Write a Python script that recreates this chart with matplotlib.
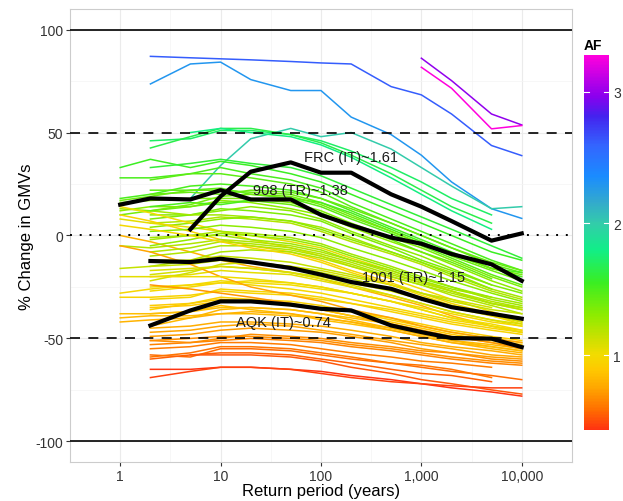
import numpy as np
import matplotlib
matplotlib.use('Agg')
import matplotlib.pyplot as plt
from matplotlib.colors import LinearSegmentedColormap, Normalize
from matplotlib.cm import ScalarMappable

plt.rcParams['font.family'] = ['Liberation Sans', 'DejaVu Sans']

return_periods = [1, 2, 5, 10, 20, 50, 100, 200, 500, 1000, 2000, 5000, 10000]
N = None

# amplification factor of each site record
af_values = [
    2.62, 2.30, 2.98, 3.28, 2.00,
    1.72, 1.65, 1.78, 1.55, 1.50, 1.45, 1.50, 1.40, 1.45, 1.35, 1.30, 1.40,
    1.30, 1.35, 1.25, 1.20, 1.30, 1.50, 1.60, 1.42, 1.38,
    1.00, 0.95, 1.05, 0.80, 1.20, 1.25, 1.20, 1.22, 1.15, 1.10, 1.05, 1.12,
    1.00, 0.98, 1.15, 0.95, 0.95, 1.28, 1.30, 1.20, 1.25, 0.98,
    0.90, 0.85, 0.92, 0.82, 0.85, 0.78, 0.72, 0.68, 0.65, 0.62, 0.58, 0.55,
    0.52, 0.44, 0.47, 0.80, 0.82, 0.97, 0.75, 0.70, 1.02, 1.08, 0.88, 0.75,
    0.60, 0.68,
]

# % change in GMVs per return period (None = not computed)
gmv_change = [
    [N, 87, 86.3, 85.8, 85.3, 84.5, 83.8, 83.3, 72.3, 68.3, 59, 43.7, 38.8],
    [N, 73.6, 83.3, 84.2, 75.7, 70.4, 70.4, 57.5, 49, 39, 26, 13, 8.3],
    [N, N, N, N, N, N, N, N, N, 86.1, 75.2, 59, 53.7],
    [N, N, N, N, N, N, N, N, N, 81.7, 71.5, 51.8, 53.4],
    [N, N, 18, 34, 47, 52, 48, 50, 42, 33, 24, 13, 14],
    [N, 46, 47, 51, 51, 49, 46, 41, 33, 26, 18, 10, N],
    [N, 42.5, 48, 52, 52, 49, 45, 39, 30, 22, 14, 6, N],
    [N, N, 50, 52, 50, 48, 44, 38, 28, 20, 12, 3, N],
    [33, 37, 33, 36, 34, 30, 26, 20, 12, 6, 0, -8, -12],
    [28, 28, 30, 33, 30, 27, 23, 16, 8, 2, -4, -12, -17],
    [N, 27, 30, 30, 28, 25, 21, 14, 6, 0, -6, -14, -18],
    [18, 20, 24, 25, 24, 22, 18, 12, 4, -2, -8, -16, -20],
    [17, 19, 22, 22, 21, 20, 16, 10, 2, -4, -10, -17, -22],
    [N, 22, 22, 23, 20, 18, 14, 8, 1, -5, -11, -19, -24],
    [16, 17, 18, 18, 18, 16, 12, 6, -1, -6, -12, -20, -25],
    [12, 14, 14, 17, 16, 13, 10, 4, -3, -8, -14, -22, -27],
    [N, 12, 14, 16, 17, 15, 11, 5, -2, -8, -13, -21, N],
    [N, 10, 10, 12, 14, 12, 8, 2, -5, -10, -16, -24, N],
    [N, 8, 10, 13, 12, 10, 7, 1, -6, -12, -17, -24, -28],
    [13, 12, 10, 10, 9, 7, 4, -1, -8, -13, -18, -26, -30],
    [N, 6, 7, 9, 8, 6, 2, -3, -9, -14, -20, -27, -31],
    [N, 4, 6, 8, 9, 7, 3, -2, -8, -13, -19, -26, N],
    [N, 14, 16, 15, 17, 18, 16, 11, 3, -3, -9, -16, -18],
    [N, 33, 35, 37, 35, 33, 29, 23, 15, 9, 3, -5, -11],
    [N, 20, 21, 20, 22, 21, 18, 13, 6, 0, -6, -13, -17],
    [10, 12, 15, 19, 20, 19, 15, 9, 2, -4, -9, -16, -19],
    [14, 11, 6, 2, -2, -6, -10, -15, -21, -26, -31, -37, -41],
    [10, 7, 2, -2, -5, -8, -12, -17, -23, -28, -33, -38, -42],
    [8, 6, 4, 2, 0, -3, -6, -11, -17, -22, -27, -33, -36],
    [0, -3, -8, -12, -15, -18, -21, -25, -30, -34, -39, -44, -47],
    [-5, -6, -4, -2, -3, -5, -8, -12, -18, -23, -27, -33, -36],
    [N, -2, 0, 2, 1, -1, -4, -9, -15, -20, -25, -31, -34],
    [N, -10, -8, -5, -5, -7, -10, -14, -20, -24, -29, -34, -38],
    [N, -15, -12, -8, -7, -8, -11, -15, -20, -24, -28, -33, -35],
    [-16, -15, -14, -12, -13, -15, -18, -21, -26, -30, -34, -38, -40],
    [N, -19, -17, -15, -16, -18, -20, -23, -27, -31, -35, -39, -42],
    [-20, -20, -19, -17, -18, -19, -22, -25, -29, -33, -37, -41, -44],
    [N, -22, -18, -14, -13, -15, -17, -20, -24, -28, -31, -35, N],
    [N, -25, -24, -22, -23, -24, -26, -28, -32, -36, -40, -43, -46],
    [N, -27, -25, -23, -22, -23, -25, -28, -32, -35, -38, -42, -44],
    [N, -12, -12, -10, -11, -13, -16, -19, -24, -28, -32, -36, -38],
    [-30, -30, -29, -27, -28, -29, -31, -33, -37, -40, -43, -46, -48],
    [N, -31, -30, -26, -27, -28, -30, -33, -36, -39, -42, -45, -47],
    [N, -5, -2, 1, 0, -2, -5, -10, -16, -21, -25, -30, N],
    [N, 2, 3, 5, 4, 2, -1, -6, -12, -17, -22, -28, -32],
    [N, -8, -6, -3, -4, -6, -9, -13, -19, -23, -27, -32, -35],
    [N, -1, 0, 0, -2, -4, -7, -12, -17, -22, -26, -30, -33],
    [5, 3, 0, -3, -6, -9, -13, -18, -24, -29, -34, -39, -43],
    [N, -34, -33, -31, -32, -33, -35, -37, -40, -43, -46, -49, -51],
    [-38, -38, -37, -35, -35, -36, -38, -40, -43, -46, -49, -52, -54],
    [N, -36, -33, -30, -31, -32, -34, -37, -41, -44, -47, -50, -52],
    [-40, -39, -39, -38, -38, -39, -40, -42, -45, -48, -51, -53, -55],
    [N, -38, -37, -34, -36, -38, -41, -43, -46, -49, -52, -54, -56],
    [N, -45, -44, -42, -42, -43, -44, -46, -49, -52, -54, -56, -58],
    [N, -49, -48, -46, -45, -46, -47, -49, -52, -55, -57, -59, -60],
    [N, -51, -50, -49, -49, -50, -51, -53, -55, -57, -59, -61, -62],
    [N, -53, -52, -51, -50, -51, -52, -54, -56, -58, -60, -62, -63],
    [N, -55, -54, -52, -52, -53, -55, -57, -59, -61, -62, -64, N],
    [N, -58, -59, -55, -55, -56, -58, -60, -62, -64, -66, -68, -70],
    [N, -60, -58, -57, -57, -58, -60, -62, -65, -67, -68, -71, N],
    [N, N, -58, -58, -58, -59, -61, -64, -67, -70, -72, -75, -77],
    [N, -65, -65, -64, -64, -65, -66, -68, -70, -72, -74, -76, -78],
    [N, -69, -66, -64, -64, -65, -67, -69, -71, -72, -73, -74, -74],
    [-42, -41, -40, -38, -37, -38, -40, -42, -46, -49, -52, -55, -57],
    [N, -44, -40, -36, -35, -36, -38, -41, -45, -48, -51, -54, -56],
    [-28, -26, -24, -23, -24, -26, -28, -31, -35, -38, -41, -44, -46],
    [-5, -8, -14, -20, -25, -29, -32, -36, -40, -44, -47, -50, -52],
    [N, -24, -26, -28, -30, -33, -36, -39, -43, -46, -49, -52, -55],
    [N, -20, -20, -20, -21, -23, -25, -28, -32, -36, -40, -44, -47],
    [N, -17, -16, -15, -16, -18, -21, -24, -29, -33, -37, -41, -43],
    [N, -35, -34, -32, -32, -34, -36, -39, -42, -45, -48, -51, -53],
    [N, -47, -46, -44, -43, -44, -46, -48, -51, -53, -55, -58, -59],
    [N, -59, -57, -54, -54, -55, -57, -59, -62, -63, -65, -69, N],
    [N, -51, -52, -50, -48, -49, -50, -52, -54, -56, -57, -60, -61],
]

# highlighted records
frc_it = [N, N, 3, 19, 31, 35.5, 30.5, 30.5, 20, 14, 7, -2.5, 1]
tr_908 = [15, 18, 17.5, 22, 17.5, 17.5, 10, 5, -1, -4, -9, -14, -22]
tr_1001 = [N, -12.4, -12.9, -11.3, -13, -15.8, -19, -22.6, -25.9, -30.7, -34.8, -38, -40.4]
aqk_it = [N, -43.7, -36.4, -32, -32, -33.6, -35.6, -36.4, -43.7, -46.9, -49.8, -50.1, -54.2]

highlight_labels = ['FRC (IT)~1.61', '908 (TR)~1.38', '1001 (TR)~1.15', 'AQK (IT)~0.74']
label_x = [200, 62, 830, 42]
label_y = [38, 22, -20, -42]

x_ticks = [1, 10, 100, 1000, 10000]
x_tick_labels = ['1', '10', '100', '1,000', '10,000']
y_ticks = [-100, -50, 0, 50, 100]

af_min, af_max = 0.43, 3.28
af_stops = [0.43, 0.58, 0.74, 0.88, 1.0, 1.12, 1.3, 1.55, 1.8, 2.0, 2.16, 2.36, 2.59, 2.82, 2.97, 3.28]
af_colors = ['#ff3311', '#ff6e00', '#ffa400', '#ffc800', '#f2dc00', '#cde000', '#8eec00', '#3aee22',
             '#11ee88', '#33ccaa', '#33aacc', '#1a8cff', '#3366ff', '#4422ee', '#8a00ee', '#ff00dd']

cmap = LinearSegmentedColormap.from_list(
    'af', [((s - af_min) / (af_max - af_min), c) for s, c in zip(af_stops, af_colors)])
norm = Normalize(af_min, af_max)

fig = plt.figure(figsize=(6.23, 5.02), dpi=100)
ax = fig.add_axes([0.1124, 0.0777, 0.8056, 0.9024])

for af, vals in zip(af_values, gmv_change):
    y = np.array([np.nan if v is None else v for v in vals], dtype=float)
    ax.plot(return_periods, y, color=cmap(norm(af)), lw=1.1, zorder=2)

ax.axhline(100, color='black', lw=1.2, zorder=3)
ax.axhline(-100, color='black', lw=1.2, zorder=3)
ax.axhline(50, color='black', lw=1.2, ls=(0, (6, 5)), zorder=3)
ax.axhline(-50, color='black', lw=1.2, ls=(0, (6, 5)), zorder=3)
ax.axhline(0, color='black', lw=1.4, ls=(0, (1, 4)), zorder=3)

for vals in [frc_it, tr_908, tr_1001, aqk_it]:
    y = np.array([np.nan if v is None else v for v in vals], dtype=float)
    ax.plot(return_periods, y, color='black', lw=3.0, zorder=4)

for lab, lx, ly in zip(highlight_labels, label_x, label_y):
    ax.text(lx, ly, lab, ha='center', va='center', fontsize=10.5, color='#1a1a1a', zorder=5)

ax.set_xscale('log')
ax.set_xlim(10 ** -0.2, 10 ** 4.2)
ax.set_ylim(-110, 110)
ax.set_xticks(x_ticks)
ax.set_xticklabels(x_tick_labels)
ax.set_xticks([10 ** (k + 0.5) for k in range(-1, 5)], minor=True)
ax.set_xticklabels([], minor=True)
ax.set_yticks(y_ticks)
ax.set_yticklabels([str(t) for t in y_ticks])
ax.set_yticks([-75, -25, 25, 75], minor=True)
ax.tick_params(which='major', length=3, pad=2, color='#333333', labelsize=10, labelcolor='#333333')
ax.tick_params(which='minor', length=0)
ax.grid(which='major', color='#ebebeb', lw=0.8, zorder=0)
ax.grid(which='minor', color='#f4f4f4', lw=0.5, zorder=0)
ax.set_axisbelow(True)
for sp in ax.spines.values():
    sp.set_color('#cccccc')
    sp.set_linewidth(0.8)

ax.set_xlabel('Return period (years)', fontsize=12, labelpad=0)
ax.set_ylabel('% Change in GMVs', fontsize=12, labelpad=1)

cax = fig.add_axes([0.9374, 0.1414, 0.0401, 0.747])
cb = fig.colorbar(ScalarMappable(norm=norm, cmap=cmap), cax=cax)
cb.outline.set_visible(False)
cb.set_ticks([1, 2, 3])
cax.tick_params(length=0, labelsize=10, labelcolor='#333333', pad=3)
for t in [1, 2, 3]:
    cax.plot([0, 0.2], [t, t], color='white', lw=0.8, transform=cax.get_yaxis_transform())
    cax.plot([0.8, 1], [t, t], color='white', lw=0.8, transform=cax.get_yaxis_transform())
fig.text(0.9374, 0.895, 'AF', fontsize=10, fontweight='bold', ha='left', va='bottom')

fig.savefig('out.png', dpi=100)
